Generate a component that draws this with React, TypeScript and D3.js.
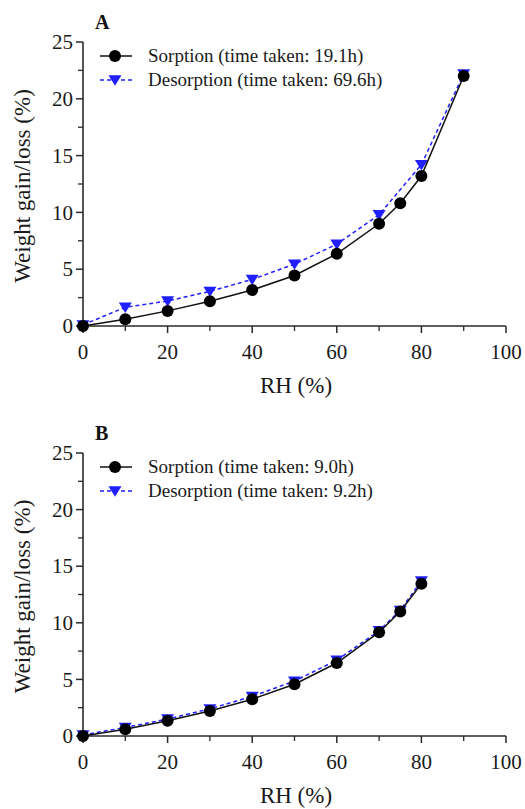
import React from "react";
import * as d3 from "d3";

const rhA_sorp = [0, 10, 20, 30, 40, 50, 60, 70, 75, 80, 90];
const wA_sorp = [0, 0.6, 1.33, 2.18, 3.17, 4.45, 6.35, 9.0, 10.8, 13.2, 22.0];
const rhA_desorp = [0, 10, 20, 30, 40, 50, 60, 70, 80, 90];
const wA_desorp = [0.1, 1.65, 2.2, 3.05, 4.1, 5.45, 7.2, 9.8, 14.2, 22.2];

const rhB_sorp = [0, 10, 20, 30, 40, 50, 60, 70, 75, 80];
const wB_sorp = [0, 0.6, 1.35, 2.2, 3.25, 4.57, 6.45, 9.17, 11.0, 13.45];
const rhB_desorp = [0, 10, 20, 30, 40, 50, 60, 70, 75, 80];
const wB_desorp = [0.1, 0.75, 1.5, 2.4, 3.5, 4.85, 6.7, 9.3, 11.1, 13.7];

const xMajor = [0, 20, 40, 60, 80, 100];
const xMinor = [10, 30, 50, 70, 90];
const yMajor = [0, 5, 10, 15, 20, 25];
const yMinor = [2.5, 7.5, 12.5, 17.5, 22.5];

const legendA = ["Sorption (time taken: 19.1h)", "Desorption (time taken: 69.6h)"];
const legendB = ["Sorption (time taken: 9.0h)", "Desorption (time taken: 9.2h)"];

const FONT = "Liberation Serif, Times New Roman, Tinos, DejaVu Serif, serif";
const BLUE = "#1f1fff";
const AXIS = "#2a2a2a";

type PanelProps = {
  letter: string;
  top: number;
  bottom: number;
  sx: number[];
  sy: number[];
  dx: number[];
  dy: number[];
  legend: string[];
};

function Triangle({ x, y, s = 6.5 }: { x: number; y: number; s?: number }) {
  const h = s * 1.6;
  const p = `M${x - s},${y - h * 0.45} L${x + s},${y - h * 0.45} L${x},${y + h * 0.55} Z`;
  return <path d={p} fill={BLUE} />;
}

const txt = (size: number, extra: any = {}) => ({ fontFamily: FONT, fontSize: size, ...extra });

function Panel({ letter, top, bottom, sx, sy, dx, dy, legend }: PanelProps) {
  const x = d3.scaleLinear().domain([0, 100]).range([83, 506]);
  const y = d3.scaleLinear().domain([0, 25]).range([bottom, top]);
  const line = d3
    .line<[number, number]>()
    .x((d) => x(d[0]))
    .y((d) => y(d[1]));
  const sData: [number, number][] = sx.map((v, i) => [v, sy[i]]);
  const dData: [number, number][] = dx.map((v, i) => [v, dy[i]]);
  const legY1 = top + 14;
  const legY2 = top + 38;
  return (
    <g>
      <text x={95} y={top - 13} style={txt(20, { fontWeight: "bold" })} fill="#111">
        {letter}
      </text>
      <line x1={x(0)} x2={x(0)} y1={y(25)} y2={y(0)} stroke={AXIS} strokeWidth={1.6} />
      <line x1={x(0)} x2={x(100)} y1={y(0)} y2={y(0)} stroke={AXIS} strokeWidth={1.6} />
      {yMajor.map((t) => (
        <g key={"ym" + t}>
          <line x1={x(0) - 7} x2={x(0)} y1={y(t)} y2={y(t)} stroke={AXIS} strokeWidth={1.5} />
          <text x={x(0) - 10} y={y(t)} dy="0.34em" textAnchor="end" style={txt(21)} fill="#1a1a1a">
            {t}
          </text>
        </g>
      ))}
      {yMinor.map((t) => (
        <line key={"yn" + t} x1={x(0) - 5} x2={x(0)} y1={y(t)} y2={y(t)} stroke={AXIS} strokeWidth={1.3} />
      ))}
      {xMajor.map((t) => (
        <g key={"xm" + t}>
          <line x1={x(t)} x2={x(t)} y1={y(0)} y2={y(0) + 7} stroke={AXIS} strokeWidth={1.5} />
          <text x={x(t)} y={y(0) + 33} textAnchor="middle" style={txt(21)} fill="#1a1a1a">
            {t}
          </text>
        </g>
      ))}
      {xMinor.map((t) => (
        <line key={"xn" + t} x1={x(t)} x2={x(t)} y1={y(0)} y2={y(0) + 5} stroke={AXIS} strokeWidth={1.3} />
      ))}
      <text x={296} y={y(0) + 67} textAnchor="middle" style={txt(23)} fill="#1a1a1a">
        RH (%)
      </text>
      <text
        transform={`translate(30,${(y(0) + y(25)) / 2 + 2}) rotate(-90)`}
        textAnchor="middle"
        style={txt(23)}
        fill="#1a1a1a"
      >
        Weight gain/loss (%)
      </text>
      <path d={line(dData) || ""} fill="none" stroke={BLUE} strokeWidth={1.5} strokeDasharray="4,3" />
      {dData.map((d, i) => (
        <Triangle key={"t" + i} x={x(d[0])} y={y(d[1])} />
      ))}
      <path d={line(sData) || ""} fill="none" stroke="#111" strokeWidth={1.5} />
      {sData.map((d, i) => (
        <circle key={"c" + i} cx={x(d[0])} cy={y(d[1])} r={6} fill="#000" />
      ))}
      <line x1={100} x2={132} y1={legY1} y2={legY1} stroke="#111" strokeWidth={1.5} />
      <circle cx={115} cy={legY1} r={6} fill="#000" />
      <text x={148} y={legY1} dy="0.33em" style={txt(19)} fill="#1a1a1a">
        {legend[0]}
      </text>
      <line x1={100} x2={132} y1={legY2} y2={legY2} stroke={BLUE} strokeWidth={1.5} strokeDasharray="4,3" />
      <Triangle x={115} y={legY2} />
      <text x={148} y={legY2} dy="0.33em" style={txt(19)} fill="#1a1a1a">
        {legend[1]}
      </text>
    </g>
  );
}

export default function App() {
  return (
    <svg width={525} height={809} style={{ position: "absolute", left: 0, top: 0, background: "#fff" }}>
      <rect width={525} height={809} fill="#fff" />
      <Panel letter="A" top={42} bottom={326} sx={rhA_sorp} sy={wA_sorp} dx={rhA_desorp} dy={wA_desorp} legend={legendA} />
      <Panel letter="B" top={453} bottom={736} sx={rhB_sorp} sy={wB_sorp} dx={rhB_desorp} dy={wB_desorp} legend={legendB} />
    </svg>
  );
}
